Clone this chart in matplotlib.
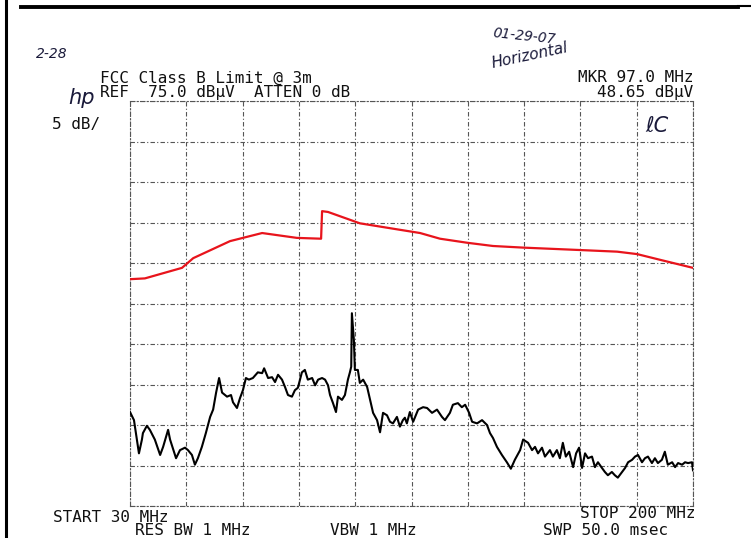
import matplotlib
matplotlib.use("Agg")
import matplotlib.pyplot as plt
from matplotlib.lines import Line2D

# limit line (FCC class B @ 3m), MHz / dBuV
lim_f = [30.0, 34.5, 45.7, 49.1, 60.2, 69.9, 80.4, 87.7, 88.0, 89.8, 99.4, 111.5,
         117.6, 123.6, 131.8, 139.6, 148.7, 165.9, 177.1, 183.1, 190.0, 200.0]
lim_db = [53.0, 53.1, 54.4, 55.6, 57.7, 58.7, 58.1, 58.0, 61.4, 61.3, 59.9, 59.1,
          58.7, 58.0, 57.5, 57.1, 56.9, 56.6, 56.4, 56.1, 55.4, 54.4]

# measured trace
tr_f = [30.0, 31.2, 32.7, 33.6, 33.9, 35.1, 36.0, 37.5, 39.1, 40.0, 41.5, 42.1,
        43.9, 45.1, 46.6, 47.5, 48.7, 49.6, 50.5, 51.7, 52.9, 54.2, 55.1, 56.0,
        56.9, 57.8, 59.3, 60.5, 61.1, 62.3, 63.2, 64.1, 65.0, 65.9, 67.1, 68.6,
        69.9, 70.5, 71.7, 72.9, 73.8, 74.7, 75.9, 76.8, 77.7, 78.9, 79.8, 80.7,
        81.9, 82.8, 83.7, 85.0, 85.9, 86.8, 88.0, 88.9, 89.8, 90.4, 91.3, 92.2,
        92.8, 94.0, 94.9, 95.8, 96.4, 96.8, 97.0, 97.6, 97.9, 98.8, 99.4, 100.4,
        101.6, 102.5, 103.4, 104.6, 105.5, 106.4, 107.6, 108.5, 109.4, 110.6, 111.5, 112.4,
        113.0, 113.6, 114.5, 115.5, 117.0, 118.5, 119.7, 121.2, 122.7, 124.2, 125.1, 126.6,
        127.5, 129.0, 130.2, 131.2, 132.4, 133.3, 134.8, 136.3, 137.8, 138.7, 139.6, 140.8,
        142.3, 143.8, 145.0, 146.2, 147.8, 148.7, 150.2, 151.4, 152.3, 153.2, 154.4, 155.3,
        156.8, 157.7, 158.9, 159.8, 160.7, 161.6, 162.6, 163.8, 164.7, 165.6, 166.5, 167.4,
        168.3, 169.5, 170.4, 171.3, 172.5, 173.4, 174.3, 175.5, 176.4, 177.3, 178.6, 179.5,
        180.4, 181.6, 182.5, 183.4, 184.6, 185.5, 186.4, 187.6, 188.5, 189.4, 190.6, 191.5,
        192.4, 193.7, 194.6, 195.5, 196.7, 197.6, 198.5, 199.7, 200.0]
tr_db = [36.6, 35.6, 31.5, 33.2, 34.0, 34.9, 34.4, 33.2, 31.3, 32.3, 34.4, 33.2,
         30.9, 31.9, 32.2, 31.9, 31.3, 30.1, 30.9, 32.3, 34.0, 36.0, 36.9, 39.0,
         40.8, 39.0, 38.5, 38.7, 37.8, 37.1, 38.3, 39.3, 40.8, 40.6, 40.8, 41.5,
         41.4, 42.0, 40.8, 40.9, 40.3, 41.2, 40.6, 39.7, 38.7, 38.5, 39.3, 39.6,
         41.5, 41.8, 40.6, 40.8, 39.9, 40.6, 40.8, 40.6, 39.9, 38.7, 37.7, 36.6,
         38.5, 38.1, 38.7, 40.6, 41.5, 42.2, 48.8, 45.5, 41.8, 41.8, 40.2, 40.6,
         39.7, 38.1, 36.5, 35.6, 34.1, 36.5, 36.2, 35.4, 35.2, 36.0, 34.8, 35.6,
         35.9, 35.2, 36.6, 35.4, 36.9, 37.2, 37.1, 36.5, 36.9, 36.0, 35.6, 36.5,
         37.5, 37.7, 37.2, 37.5, 36.5, 35.4, 35.2, 35.6, 35.0, 34.0, 33.4, 32.3,
         31.3, 30.4, 29.6, 30.7, 31.9, 33.2, 32.8, 31.9, 32.3, 31.5, 32.2, 31.1,
         31.9, 31.1, 31.9, 30.9, 32.8, 31.1, 31.7, 29.8, 31.5, 32.2, 29.7, 31.5,
         30.9, 31.1, 29.8, 30.4, 29.7, 29.2, 28.8, 29.2, 28.8, 28.5, 29.2, 29.7,
         30.4, 30.7, 31.1, 31.3, 30.4, 30.9, 31.1, 30.3, 30.9, 30.3, 30.7, 31.7,
         30.1, 30.4, 29.8, 30.3, 30.1, 30.4, 30.3, 30.4, 29.4]

f_start, f_stop = 30, 200
ref_db, db_div = 75.0, 5.0

fig = plt.figure(figsize=(7.51, 5.38), dpi=100)
fig.patch.set_facecolor("white")

ax = fig.add_axes([130 / 751, 1 - 506 / 538, 563 / 751, 405 / 538])
ax.set_xlim(f_start, f_stop)
ax.set_ylim(ref_db - 10 * db_div, ref_db)
ax.set_xticks([f_start + i * (f_stop - f_start) / 10 for i in range(11)])
ax.set_yticks([ref_db - i * db_div for i in range(11)])
ax.tick_params(length=0, labelbottom=False, labelleft=False)
ax.grid(True, color="#555555", linestyle=(0, (4, 2, 1, 2)), linewidth=0.8)
for s in ax.spines.values():
    s.set_color("#555555")
    s.set_linestyle((0, (4, 2, 1, 2)))
    s.set_linewidth(0.8)

ax.plot(lim_f, lim_db, color="#e8141c", lw=1.6, zorder=3)
ax.plot(tr_f, tr_db, color="black", lw=1.5, zorder=4)

mono = "DejaVu Sans Mono"
def txt(x, y, s, ha="left", **kw):
    fig.text(x / 751, 1 - y / 538, s, ha=ha, va="baseline", family=mono,
             fontsize=11.5, color="#111111", **kw)

txt(100, 83, "FCC Class B Limit @ 3m")
txt(100, 97, "REF  75.0 dB\u00b5V  ATTEN 0 dB")
txt(693, 82, "MKR 97.0 MHz", ha="right")
txt(693, 97, "48.65 dB\u00b5V", ha="right")
txt(52, 129, "5 dB/")
txt(53, 522, "START 30 MHz")
txt(695, 518, "STOP 200 MHz", ha="right")
txt(135, 535, "RES BW 1 MHz")
txt(330, 535, "VBW 1 MHz")
txt(543, 535, "SWP 50.0 msec")

# handwritten notes
hand = dict(color="#1a1a3a", style="italic", family="DejaVu Sans")
fig.text(36 / 751, 1 - 58 / 538, "2-28", fontsize=10, **hand)
fig.text(492 / 751, 1 - 44 / 538, "01-29-07", fontsize=10, rotation=-6, **hand)
fig.text(490 / 751, 1 - 68 / 538, "Horizontal", fontsize=11, rotation=12, **hand)
fig.text(645 / 751, 1 - 132 / 538, "\u2113C", fontsize=15, **hand)
fig.text(68 / 751, 1 - 104 / 538, "hp", fontsize=15, **hand)

# page borders of the scan
fig.add_artist(Line2D([6 / 751, 6 / 751], [0, 1], color="black", lw=2.2))
fig.add_artist(Line2D([21 / 751, 738 / 751], [1 - 7 / 538, 1 - 7 / 538], color="black", lw=2.8))
fig.add_artist(Line2D([738 / 751, 1], [1 - 6 / 538, 1 - 6 / 538], color="black", lw=1.5))

fig.savefig("out.png", dpi=100)
